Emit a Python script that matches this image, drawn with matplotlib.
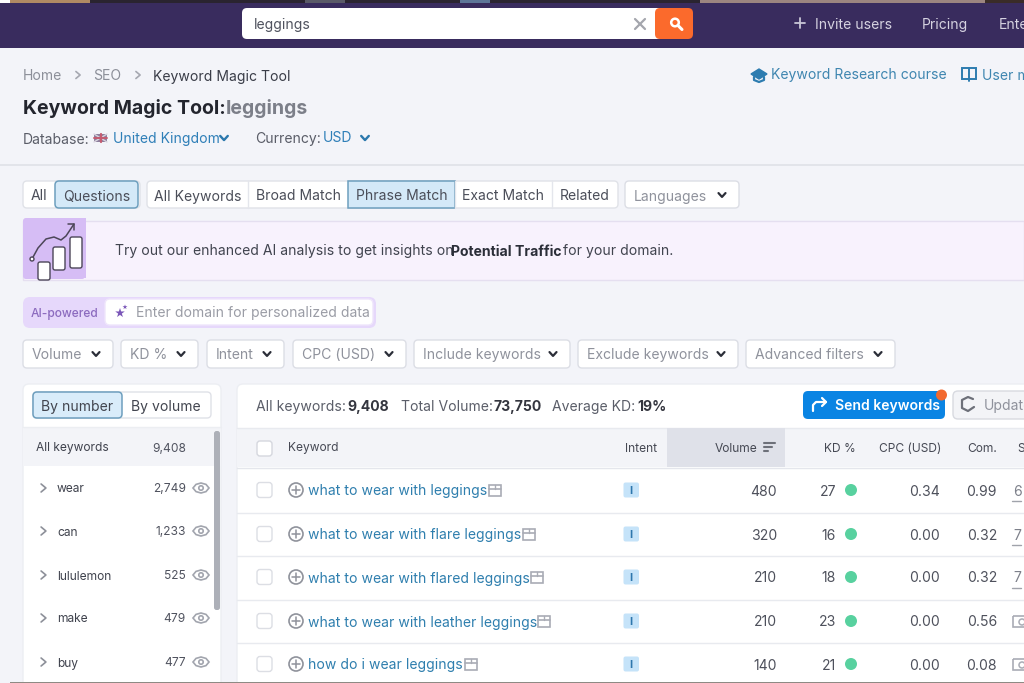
import matplotlib
matplotlib.use("Agg")
import matplotlib.pyplot as plt
from matplotlib.patches import FancyBboxPatch, Rectangle, Circle, Polygon

plt.rcParams['font.family'] = ['Inter', 'DejaVu Sans']

# ---- data ----
keywords = ["what to wear with leggings", "what to wear with flare leggings",
            "what to wear with flared leggings", "what to wear with leather leggings",
            "how do i wear leggings"]
intents = ["I", "I", "I", "I", "I"]
volumes = [480, 320, 210, 210, 140]
kd_values = [27, 16, 18, 23, 21]
cpc_values = ["0.34", "0.00", "0.00", "0.00", "0.00"]
com_values = ["0.99", "0.32", "0.32", "0.56", "0.08"]
serp_values = ["6", "7", "7", None, None]
groups = ["wear", "can", "lululemon", "make", "buy"]
group_counts = ["2,749", "1,233", "525", "479", "477"]
match_tabs = ["All Keywords", "Broad Match", "Phrase Match", "Exact Match", "Related"]
filters = ["Volume", "KD %", "Intent", "CPC (USD)", "Include keywords", "Exclude keywords", "Advanced filters"]

# ---- layout ----
row_y = [490, 534, 577, 621, 664]
group_y = [488, 531, 575, 618, 662]
tab_edges = [147, 248, 348, 455, 552, 618]
filter_edges = [(23, 113), (121, 198), (207, 284), (293, 406), (414, 570), (578, 738), (746, 895)]
keyword_icon_x = [495, 529, 537, 544, 471]

DARK = "#2b2e38"
MID = "#50535f"
GREY = "#8c8f99"
BLUE = "#2f7fae"
LINE = "#e4e6ec"

fig = plt.figure(figsize=(10.24, 6.83), dpi=100, facecolor="#f3f4f9")
ax = fig.add_axes([0, 0, 1, 1])
ax.set_xlim(0, 1024)
ax.set_ylim(683, 0)
ax.axis("off")


def px(s):
    return s * 0.72


def T(x, y, s, size=14, color=MID, weight="normal", ha="left", z=5):
    return ax.text(x, y, s, fontsize=px(size), color=color, fontweight=weight,
                   ha=ha, va="center_baseline", zorder=z)


def R(x0, y0, x1, y1, fc="white", ec="none", lw=1.0, z=2):
    ax.add_patch(Rectangle((x0, y0), x1 - x0, y1 - y0, fc=fc, ec=ec, lw=lw, zorder=z))


def B(x0, y0, x1, y1, fc="white", ec="#dcdee5", lw=1.0, r=4, z=2):
    ax.add_patch(FancyBboxPatch((x0 + r, y0 + r), x1 - x0 - 2 * r, y1 - y0 - 2 * r,
                                boxstyle=f"round,pad={r},rounding_size={r}",
                                fc=fc, ec=ec, lw=lw, zorder=z))


def L(xs, ys, color=MID, lw=1.2, z=5):
    ax.plot(xs, ys, color=color, lw=lw, zorder=z, solid_capstyle="round", solid_joinstyle="round")


def chevron_down(x, y, color=DARK, s=3.5, lw=1.6):
    L([x - s, x, x + s], [y - s * 0.55, y + s * 0.55, y - s * 0.55], color, lw)


def chevron_right(x, y, color=GREY, s=4, lw=1.2):
    L([x - s * 0.6, x + s * 0.6, x - s * 0.6], [y - s, y, y + s], color, lw)


def eye(x, y):
    ax.add_patch(Polygon([[x - 8, y], [x - 5, y - 3.6], [x, y - 5], [x + 5, y - 3.6], [x + 8, y],
                          [x + 5, y + 3.6], [x, y + 5], [x - 5, y + 3.6]],
                         closed=True, fc="white", ec="#a2a5ae", lw=1.2, zorder=5))
    ax.add_patch(Circle((x, y), 2.2, fc="white", ec="#a2a5ae", lw=1.2, zorder=6))


def serp_icon(x, y, color="#a9acb5"):
    R(x - 6, y - 5.5, x + 6, y + 5.5, fc="none", ec=color, lw=1.2, z=5)
    L([x - 6, x + 6], [y - 1.5, y - 1.5], color, 1.2)
    L([x, x], [y - 5.5, y - 1.5], color, 1.0)


# top photo strip
R(0, 0, 1024, 3, fc="#2a2430", z=1)
for x0, x1, c in [(0, 10, "#ffffff"), (10, 90, "#b08a63"), (305, 345, "#5a5a68"), (460, 490, "#5e7698"),
                  (700, 985, "#9c8580"), (985, 1024, "#3a2c28")]:
    R(x0, 0, x1, 3, fc=c, z=1)

# nav bar
R(0, 3, 1024, 48, fc="#392c5e", z=1)
B(242, 8, 665, 39, fc="white", ec="none", r=5)
B(655, 8, 693, 39, fc="#fb6a2c", ec="none", r=5, z=3)
R(660, 8, 670, 39, fc="#fb6a2c", z=3)
T(254, 24, "leggings", 14, "#50535f")
L([635, 645], [19, 29], "#a4a6ad", 1.6)
L([645, 635], [19, 29], "#a4a6ad", 1.6)
ax.add_patch(Circle((675, 22.5), 3.8, fc="none", ec="white", lw=1.8, zorder=5))
L([678, 682], [25.5, 29.5], "white", 2.2)
L([795, 805], [23, 23], "#c9c6d6", 1.3)
L([800, 800], [18, 28], "#c9c6d6", 1.3)
T(815, 23.5, "Invite users", 14, "#d5d2e0")
T(922, 23.5, "Pricing", 14, "#d5d2e0")
T(999, 23.5, "Enterprise", 14, "#d5d2e0")

# header
T(23, 75, "Home", 14, GREY)
chevron_right(78, 75, "#a6a8b1", 3.5)
T(93, 75, "SEO", 14, GREY)
chevron_right(138, 75, "#a6a8b1", 3.5)
T(153, 75, "Keyword Magic Tool", 14, "#3a3d48")
T(23, 107, "Keyword Magic Tool:", 19.5, "#23252e", "bold")
T(226, 107, "leggings", 19.5, "#7c7f89", "bold")
T(23, 138, "Database:", 14, "#5a5d68")
R(94, 134, 107, 142, fc="#8d7f9e", z=4)
L([94, 107], [134, 142], "#d9d4de", 1.0)
L([94, 107], [142, 134], "#d9d4de", 1.0)
L([100.5, 100.5], [134, 142], "#c45b70", 1.6)
L([94, 107], [138, 138], "#c45b70", 1.4)
T(113, 137, "United Kingdom", 14, "#2f7fb8")
chevron_down(224, 138, "#2b78ad", 3.8, 1.7)
T(255, 138, "Currency:", 14, "#5a5d68")
T(323, 137, "USD", 14, "#2f7fb8")
chevron_down(365, 138, "#2b78ad", 3.8, 1.7)
# grad-cap icon + link
ax.add_patch(Polygon([[751, 74], [759, 69], [767, 74], [759, 79]], closed=True, fc="#2d7cb0", ec="#2d7cb0", lw=1, zorder=5))
L([754, 754, 759, 764, 764], [77, 80, 82, 80, 77], "#2d7cb0", 1.6)
T(771, 74, "Keyword Research course", 14, "#3f86b0")
R(962, 68, 976, 79, fc="none", ec="#2d7cb0", lw=1.4, z=5)
L([969, 969], [68, 81], "#2d7cb0", 1.4)
T(982, 74, "User manual", 14, "#3f86b0")
L([0, 1024], [164.5, 164.5], "#dfe1e7", 1.2, z=1)

# tab row
B(23, 181, 140, 208, ec="#e0e2e8")
B(55, 181, 138, 208, fc="#d4e9f8", ec="#6e9fbe", lw=1.1, r=4, z=3)
T(39, 195, "All", 14, "#4b4e59", ha="center")
T(97, 195, "Questions", 14, "#4b4e59", ha="center")
B(147, 181, 618, 208, ec="#e0e2e8")
for i, name in enumerate(match_tabs):
    x0, x1 = tab_edges[i], tab_edges[i + 1]
    if name == "Phrase Match":
        R(x0, 181, x1, 208, fc="#d4e9f8", ec="#6e9fbe", lw=1.1, z=3)
    elif i > 0:
        L([x0, x0], [181, 208], "#e4e6ec", 1.0, z=3)
    T((x0 + x1) / 2, 195, name, 14, "#4b4e59", ha="center")
B(625, 181, 739, 208, ec="#dcdee5")
T(634, 195, "Languages", 14, "#8f929c")
chevron_down(722, 195)

# AI banner
R(23, 221, 1024, 280, fc="#f8f2fd", ec="#e5dff0", lw=1.0, z=1)
B(23, 218, 85, 279, fc="#d6bdf5", ec="none", r=3)
ax.add_patch(Polygon([[60, 278], [86, 278], [86, 218], [72, 218]], closed=True, fc="#d6bdf5", ec="none", zorder=2))
for cx, top, bot, w in [(44, 262, 282, 6), (59, 247, 272, 6), (76, 237, 270, 6)]:
    B(cx - w, top, cx + w, bot - 2, fc="white", ec="#4c4658", lw=1.0, r=2, z=4)
L([32, 38, 46, 54, 61, 66, 74], [259, 248, 239, 237, 240, 236, 224], "#4c4658", 1.1)
L([68, 74, 74], [224, 224, 230], "#4c4658", 1.1)
ax.add_patch(Circle((32, 259), 2, fc="white", ec="#4c4658", lw=1, zorder=6))
T(115, 250, "Try out our enhanced AI analysis to get insights on", 14, "#41444f")
T(451, 250, "Potential Traffic", 14, "#2b2e38", "bold")
T(563, 250, "for your domain.", 14, "#41444f")

# AI input
B(23, 297, 376, 328, fc="#e6d8fb", ec="none", r=7)
B(105, 299, 373, 325, fc="white", ec="#efe6fb", r=5, z=3)
T(31, 312, "AI-powered", 12, "#8c6bbf", "medium")
ax.scatter([120, 125], [313, 307], marker="*", s=[52, 14], color="#7a56b8", zorder=5, linewidths=0)
T(136, 312, "Enter domain for personalized data", 14, "#9b9da6")

# filter row
for name, (x0, x1) in zip(filters, filter_edges):
    B(x0, 340, x1, 368, ec="#dcdee5")
    T(x0 + 9, 353.5, name, 14, "#8f929c")
    chevron_down(x1 - 17, 354)

# left panel
B(23, 384, 221, 700, ec="#eceef3", r=6, z=1)
B(33, 392, 211, 418, ec="#dfe1e7", z=2)
B(33, 392, 122, 418, fc="#d9ecfa", ec="#6e9fbe", lw=1.1, r=4, z=3)
T(77.5, 405.5, "By number", 14, "#42454f", ha="center")
T(166, 405.5, "By volume", 14, "#42454f", ha="center")
R(23, 427, 221, 466, fc="#f3f4f8", z=2)
L([23, 221], [426.5, 426.5], "#eceef2", 1.0, z=3)
T(36, 447, "All keywords", 12, "#3f424d")
T(186, 447, "9,408", 12, "#50535f", ha="right")
B(214, 431, 220, 610, fc="#adb0b8", ec="none", r=2.5, z=4)
for name, count, y in zip(groups, group_counts, group_y):
    chevron_right(43.5, y, "#8d9099", 4, 1.2)
    T(57, y, name, 12, "#3f424d")
    T(186, y - 0.5, count, 12, "#50535f", ha="right")
    eye(201, y)

# right panel
B(237, 384, 1060, 700, ec="#eceef3", r=6, z=1)
T(256, 405.5, "All keywords:", 14, "#5b5e69")
T(347, 405.5, "9,408", 14, "#34363f", "bold")
T(401, 405.5, "Total Volume:", 14, "#5b5e69")
T(493, 405.5, "73,750", 14, "#34363f", "bold")
T(552, 405.5, "Average KD:", 14, "#5b5e69")
T(637, 405.5, "19%", 14, "#34363f", "bold")
B(803, 391, 945, 419, fc="#0a84e3", ec="none", r=5, z=3)
L([813, 813, 816, 826], [411, 405, 402, 402], "white", 1.6)
L([822, 826, 822], [398, 402, 406], "white", 1.6)
T(835, 404.5, "Send keywords", 14, "white", "semibold")
ax.add_patch(Circle((941.5, 395), 5.5, fc="#f2692f", ec="none", zorder=6))
B(953, 391, 1050, 419, fc="#f3f4f7", ec="#d8dae0", r=5)
L([973, 968, 962, 962, 968, 974], [399, 397, 400, 408, 411, 407], "#6d7079", 1.6)
T(984, 404.5, "Update", 14, "#8f929c")

# table header
R(237, 428, 1024, 467, fc="#f3f4f8", z=2)
L([237, 1024], [427.5, 427.5], "#e8eaef", 1.0, z=3)
L([237, 1024], [467.5, 467.5], "#e4e6ec", 1.0, z=3)
R(667, 428, 785, 467, fc="#dfe1e9", z=3)
B(257, 441, 272, 456, ec="#d5d7de", r=3, z=4)
T(288, 447, "Keyword", 12, "#464954")
T(625, 447, "Intent", 12, "#464954")
T(757, 447, "Volume", 12, "#464954", ha="right")
L([764, 775], [442.5, 442.5], "#6d7079", 1.5)
L([764, 772], [446.5, 446.5], "#6d7079", 1.5)
L([764, 768], [450.5, 450.5], "#6d7079", 1.5)
T(856, 447, "KD %", 12, "#464954", ha="right")
T(941, 447, "CPC (USD)", 12, "#464954", ha="right")
T(997, 447, "Com.", 12, "#464954", ha="right")
T(1017, 447, "SF", 12, "#464954")

# table rows
for i, y in enumerate(row_y):
    if i < len(row_y) - 1:
        L([237, 1024], [(y + row_y[i + 1]) / 2 + 0.5] * 2, "#e8eaef", 1.0, z=3)
    B(257, y - 7.5, 272, y + 7.5, ec="#dcdee4", r=3, z=4)
    ax.add_patch(Circle((296, y), 7, fc="white", ec="#8f929b", lw=1.2, zorder=5))
    L([292, 300], [y, y], "#8f929b", 1.1, z=6)
    L([296, 296], [y - 4, y + 4], "#8f929b", 1.1, z=6)
    T(308, y, keywords[i], 14, BLUE)
    serp_icon(keyword_icon_x[i], y + 0.5)
    B(623.5, y - 7.5, 639, y + 7.5, fc="#c5e3f9", ec="none", r=2, z=4)
    T(631.3, y, intents[i], 11, "#2e77ad", "bold", ha="center")
    T(777, y, str(volumes[i]), 14, "#4e515c", ha="right")
    T(836, y, str(kd_values[i]), 14, "#4e515c", ha="right")
    ax.add_patch(Circle((851, y), 6, fc="#58d19f", ec="none", zorder=5))
    T(940, y, cpc_values[i], 14, "#4e515c", ha="right")
    T(997, y, com_values[i], 14, "#4e515c", ha="right")
    if serp_values[i] is not None:
        T(1017, y, serp_values[i], 14, "#7d808a", ha="center")
        L([1012, 1021], [y + 10.5, y + 10.5], "#a0a3ab", 1.0)
    else:
        R(1013, y - 5, 1030, y + 6, fc="none", ec="#a9acb5", lw=1.2, z=5)
        ax.add_patch(Circle((1022, y + 1), 3, fc="none", ec="#a9acb5", lw=1.1, zorder=5))

# bottom photo strip
R(0, 681.8, 1024, 683, fc="#8e8a84", z=8)
R(0, 681.8, 10, 683, fc="#f3f4f9", z=8)

fig.savefig("out.png", dpi=100, facecolor=fig.get_facecolor())
